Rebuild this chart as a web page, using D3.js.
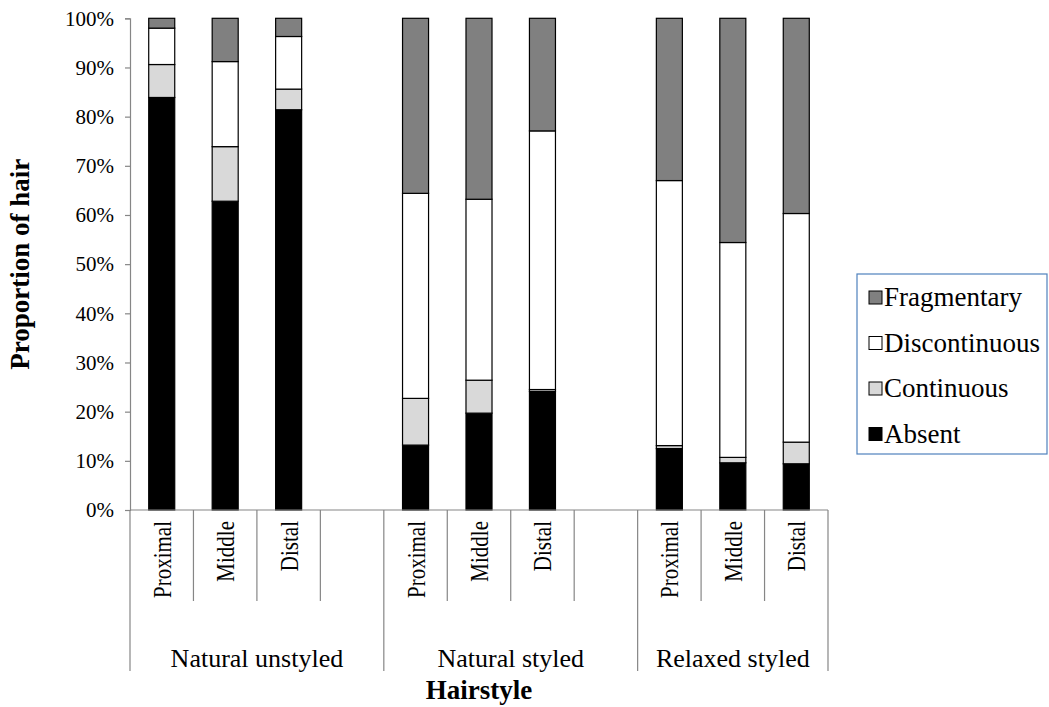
<!DOCTYPE html>
<html>
<head>
<meta charset="utf-8">
<script src="https://cdn.jsdelivr.net/npm/d3@7"></script>
<style>
  html, body { margin: 0; padding: 0; background: #fff; }
  svg text { font-family: "Liberation Serif", "Times New Roman", serif; fill: #000; }
</style>
</head>
<body>
<svg id="chart" width="1049" height="707"></svg>
<script>
// ---- data ----
const groups = ["Natural unstyled", "Natural styled", "Relaxed styled"];
const groupSlots = [4, 4, 3];
const categories = ["Proximal", "Middle", "Distal", "", "Proximal", "Middle", "Distal", "", "Proximal", "Middle", "Distal"];
const seriesNames = ["Absent", "Continuous", "Discontinuous", "Fragmentary"];
const absent        = [83.9, 62.8, 81.4, null, 13.2, 19.7, 24.1, null, 12.5,  9.6,  9.4];
const continuous    = [ 6.7, 11.1,  4.2, null,  9.5,  6.7,  0.4, null,  0.6,  1.1,  4.4];
const discontinuous = [ 7.4, 17.3, 10.7, null, 41.7, 36.8, 52.6, null, 53.9, 43.7, 46.5];
const fragmentary   = [ 2.0,  8.8,  3.7, null, 35.6, 36.8, 22.9, null, 33.0, 45.6, 39.7];
const yTicks = [0, 10, 20, 30, 40, 50, 60, 70, 80, 90, 100];
const colors = ["#000000", "#D9D9D9", "#FFFFFF", "#808080"];

const seriesValues = [absent, continuous, discontinuous, fragmentary];

(function () {
// ---- layout ----
const svg = d3.select("#chart");
const pLeft = 130, pRight = 828, pTop = 18.3, pBottom = 510;
const FONT = "Liberation Serif";

const x = d3.scaleBand().domain(d3.range(categories.length)).range([pLeft, pRight]).paddingInner(0).paddingOuter(0);
const y = d3.scaleLinear().domain([0, 100]).range([pBottom, pTop]);
const barW = x.bandwidth() * 0.41;

// stacked data
const table = categories.map((c, i) => {
  const o = { i: i };
  seriesNames.forEach((s, k) => { o[s] = seriesValues[k][i] || 0; });
  return o;
});
const stack = d3.stack().keys(seriesNames)(table);

// bars
const gBars = svg.append("g");
stack.forEach((layer, k) => {
  gBars.selectAll(null)
    .data(layer.filter(d => d.data[seriesNames[k]] > 0))
    .enter().append("rect")
    .attr("x", d => x(d.data.i) + x.bandwidth() / 2 - barW / 2)
    .attr("width", barW)
    .attr("y", d => y(d[1]))
    .attr("height", d => y(d[0]) - y(d[1]))
    .attr("fill", colors[k])
    .attr("stroke", "#000")
    .attr("stroke-width", 1.2);
});

// y axis
const yAxis = d3.axisLeft(y).tickValues(yTicks).tickFormat(d => d + "%").tickSize(5).tickPadding(11);
const gy = svg.append("g").attr("transform", `translate(${pLeft},0)`).call(yAxis);
gy.attr("font-family", FONT);
gy.select(".domain").attr("stroke", "#868686").attr("stroke-width", 1.2);
gy.selectAll(".tick line").attr("stroke", "#868686").attr("stroke-width", 1.2);
gy.selectAll(".tick text").style("font-size", "21px").style("font-family", FONT);

// x axis baseline
svg.append("line").attr("x1", pLeft).attr("x2", pRight).attr("y1", pBottom).attr("y2", pBottom)
  .attr("stroke", "#868686").attr("stroke-width", 1.2);

// category separators
const innerBottom = 601, groupBottom = 671;
const groupBoundaries = [0];
groupSlots.forEach((n, gi) => groupBoundaries.push(groupBoundaries[gi] + n));
for (let i = 0; i <= categories.length; i++) {
  const xx = i < categories.length ? x(i) : pRight;
  const isGroup = groupBoundaries.includes(i);
  svg.append("line").attr("x1", xx).attr("x2", xx).attr("y1", pBottom).attr("y2", isGroup ? groupBottom : innerBottom)
    .attr("stroke", "#868686").attr("stroke-width", 1.2);
}

// rotated category labels
svg.append("g").selectAll("text").data(categories).enter().append("text")
  .attr("transform", (d, i) => `translate(${x(i) + x.bandwidth() / 2},${pBottom + 11}) scale(1.22,1) rotate(-90)`)
  .attr("text-anchor", "end")
  .attr("dy", "0.35em")
  .style("font-size", "21px")
  .text(d => d);

// group labels
groups.forEach((g, gi) => {
  const x0 = x(groupBoundaries[gi]);
  const x1 = groupBoundaries[gi + 1] < categories.length ? x(groupBoundaries[gi + 1]) : pRight;
  svg.append("text").attr("x", (x0 + x1) / 2).attr("y", 667)
    .attr("text-anchor", "middle").style("font-size", "26px").text(g);
});

// axis titles
svg.append("text").attr("x", (pLeft + pRight) / 2).attr("y", 699)
  .attr("text-anchor", "middle").style("font-size", "27px").attr("font-weight", "bold").text("Hairstyle");
svg.append("text").attr("transform", `translate(29,${(pTop + pBottom) / 2}) rotate(-90)`)
  .attr("text-anchor", "middle").style("font-size", "27px").attr("font-weight", "bold").text("Proportion of hair");

// legend
const lg = svg.append("g");
lg.append("rect").attr("x", 857).attr("y", 274).attr("width", 190).attr("height", 180)
  .attr("fill", "#fff").attr("stroke", "#4F81BD").attr("stroke-width", 1.2);
const legendOrder = [3, 2, 1, 0];
legendOrder.forEach((k, j) => {
  const cy = 297 + j * 45.5;
  lg.append("rect").attr("x", 869).attr("y", cy - 6).attr("width", 13).attr("height", 13)
    .attr("fill", colors[k]).attr("stroke", "#000").attr("stroke-width", 1);
  lg.append("text").attr("x", 884).attr("y", cy).attr("dy", "0.35em")
    .style("font-size", "27px").text(seriesNames[k]);
});
})();
</script>
</body>
</html>
